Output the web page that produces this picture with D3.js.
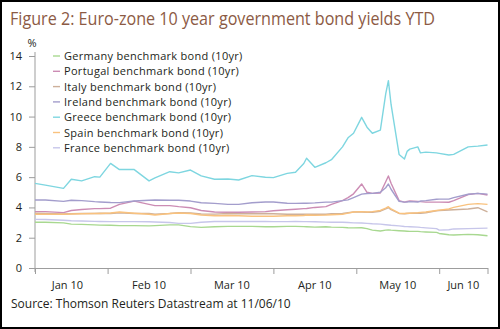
<!DOCTYPE html>
<html>
<head>
<meta charset="utf-8">
<script src="https://cdn.jsdelivr.net/npm/d3@7"></script>
<style>
  body { margin: 0; background: #fff; }
  svg { display: block; }
  .axis path, .axis line { stroke: #9d9d9d; }
  .axis text { font-family: "Open Sans", sans-serif; font-size: 11px; fill: #231f20; }
</style>
</head>
<body>
<script>
const dim = {width: 500, height: 329};
const plot = {left: 35, right: 487.5, top: 56, bottom: 268};

// sample dates shared by every series
const dates = [
  "2010-01-04","2010-01-08","2010-01-15","2010-01-18","2010-01-22","2010-01-27","2010-01-29",
  "2010-02-02","2010-02-05","2010-02-10","2010-02-15","2010-02-17","2010-02-22","2010-02-25",
  "2010-03-01","2010-03-05","2010-03-10","2010-03-15","2010-03-19","2010-03-24","2010-03-29",
  "2010-04-01","2010-04-06","2010-04-09","2010-04-12","2010-04-13","2010-04-16","2010-04-20",
  "2010-04-22","2010-04-26","2010-04-28","2010-04-30",
  "2010-05-03","2010-05-05","2010-05-07","2010-05-10","2010-05-12","2010-05-13","2010-05-14",
  "2010-05-17","2010-05-19","2010-05-20","2010-05-21","2010-05-24","2010-05-25","2010-05-27",
  "2010-05-31","2010-06-01","2010-06-03","2010-06-04","2010-06-07","2010-06-09","2010-06-11"
];

const germany = [3.02,3.02,2.98,2.90,2.88,2.85,2.83, 2.82,2.80,2.80,2.78,2.80,2.85,2.85,
  2.73,2.68,2.72,2.75,2.75,2.75,2.72, 2.72,2.75,2.75,2.73,2.72,2.70,2.72, 2.70,2.68,2.66,2.65,
  2.66,2.60,2.50,2.44,2.50,2.52,2.50, 2.46,2.44,2.43,2.42,2.42,2.40,2.38, 2.35,2.28,2.20,2.18,2.22,2.20,2.13];

const portugal = [3.72,3.72,3.66,3.80,3.86,3.92,3.92, 3.95,4.20,4.42,4.20,4.12,4.12,4.05,
  3.98,3.80,3.70,3.68,3.68,3.70,3.72, 3.78,3.85,3.88,3.92,3.93,4.00,4.05, 4.20,4.45,4.65,4.90,
  5.55,5.00,4.93,4.95,5.70,6.08,5.60, 4.45,4.35,4.40,4.42,4.40,4.38,4.35, 4.35,4.35,4.34,4.45,4.85,4.93,4.82];

const italy = [3.62,3.60,3.57,3.58,3.60,3.60,3.62, 3.60,3.65,3.60,3.60,3.55,3.60,3.65,
  3.63,3.57,3.56,3.60,3.58,3.58,3.60, 3.58,3.55,3.55,3.55,3.56,3.55,3.55, 3.58,3.60,3.65,3.70,
  3.70,3.68,3.68,3.75,3.90,3.98,3.85, 3.60,3.58,3.60,3.62,3.62,3.62,3.65, 3.78,3.80,3.83,3.85,3.90,3.98,3.70];

const ireland = [4.49,4.49,4.40,4.47,4.45,4.38,4.36, 4.33,4.32,4.42,4.47,4.49,4.47,4.47,
  4.42,4.31,4.27,4.20,4.20,4.31,4.36, 4.36,4.28,4.27,4.28,4.28,4.30,4.35, 4.35,4.45,4.50,4.65,
  4.88,4.92,4.93,5.00,5.30,5.55,5.20, 4.40,4.35,4.36,4.38,4.36,4.42,4.45, 4.54,4.55,4.55,4.65,4.87,4.93,4.88];

const greece = [5.59,5.47,5.26,5.86,5.75,6.03,6.00, 6.91,6.50,6.50,5.75,5.95,6.36,6.28,
  6.47,6.08,5.86,5.88,5.81,6.10,5.99, 5.97,6.25,6.32,6.90,7.25,6.65,6.95, 7.15,8.00,8.60,8.90,
  9.95,9.30,8.90,9.10,11.50,12.37,10.80, 7.50,7.20,7.70,7.85,8.00,7.60,7.65, 7.60,7.57,7.46,7.50,8.00,8.05,8.12];

const spain = [3.55,3.55,3.55,3.57,3.58,3.60,3.60, 3.63,3.70,3.62,3.55,3.50,3.60,3.63,
  3.60,3.50,3.45,3.47,3.45,3.42,3.42, 3.42,3.45,3.45,3.47,3.50,3.48,3.50, 3.52,3.55,3.62,3.70,
  3.72,3.70,3.72,3.80,3.95,4.05,3.90, 3.62,3.60,3.62,3.62,3.65,3.67,3.70, 3.80,3.82,3.90,4.00,4.20,4.25,4.20];

const france = [3.21,3.20,3.15,3.12,3.10,3.08,3.07, 3.06,3.06,3.06,3.05,3.04,3.00,2.95,
  2.95,3.02,3.07,3.07,3.08,3.07,3.07, 3.06,3.06,3.07,3.06,3.06,3.05,3.03, 3.02,3.02,3.00,2.98,
  2.97,2.95,2.92,2.90,2.86,2.84,2.82, 2.78,2.74,2.73,2.72,2.70,2.68,2.65, 2.60,2.50,2.53,2.58,2.60,2.62,2.63];

const seriesNames = [
  "Germany benchmark bond (10yr)", "Portugal benchmark bond (10yr)", "Italy benchmark bond (10yr)",
  "Ireland benchmark bond (10yr)", "Greece benchmark bond (10yr)", "Spain benchmark bond (10yr)",
  "France benchmark bond (10yr)"
];
const seriesValues = [germany, portugal, italy, ireland, greece, spain, france];
const colors = ["#a8d890", "#cc8cb4", "#cdb09a", "#a39dcc", "#7ed6e0", "#f9c27e", "#c7c6ea"];

const monthStarts = ["2010-01-01","2010-02-01","2010-03-01","2010-04-01","2010-05-01","2010-06-01","2010-07-01"];
const yTicks = [0, 2, 4, 6, 8, 10, 12, 14];

const parse = d3.timeParse("%Y-%m-%d");
const days = dates.map(parse);
const months = monthStarts.map(parse);
const series = seriesNames.map((name, i) => ({
  name, color: colors[i],
  points: days.map((d, j) => ({date: d, value: seriesValues[i][j]}))
}));

// every month gets the same width on the axis
const firstW = 72.6, monthW = 82.9;
const inner = months.slice(1, 6);
const x = d3.scaleTime()
  .domain([days[0], ...inner, days[days.length - 1]])
  .range([plot.left, ...inner.map((m, i) => plot.left + firstW + i * monthW), plot.right]);
const y = d3.scaleLinear().domain([0, 14]).range([plot.bottom, plot.top]);

const svg = d3.select("body").append("svg")
  .attr("width", dim.width).attr("height", dim.height);

svg.append("rect").attr("x", 1).attr("y", 1)
  .attr("width", dim.width - 2).attr("height", dim.height - 2)
  .attr("fill", "#fff").attr("stroke", "#000").attr("stroke-width", 2);

svg.append("text").attr("x", 10).attr("y", 25)
  .attr("font-family", "Open Sans, sans-serif").attr("font-size", 18.5)
  .attr("fill", "#8c5a44").attr("textLength", 425).attr("lengthAdjust", "spacingAndGlyphs")
  .text("Figure 2: Euro-zone 10 year government bond yields YTD");

// y axis
const yAxis = svg.append("g").attr("class", "axis")
  .attr("transform", `translate(${plot.left},0)`)
  .call(d3.axisLeft(y).tickValues(yTicks).tickSize(6).tickSizeOuter(0).tickPadding(7));
yAxis.select(".domain").attr("d", `M0,${plot.bottom + 4}V${plot.top - 4}`);

svg.append("text").attr("x", 32).attr("y", 47).attr("text-anchor", "middle")
  .attr("font-family", "Open Sans, sans-serif").attr("font-size", 11).attr("fill", "#231f20")
  .text("%");

// x axis: ticks on month boundaries, labels centred in each month
svg.append("g").attr("class", "axis")
  .attr("transform", `translate(0,${plot.bottom})`)
  .call(d3.axisBottom(x).tickValues([days[0], ...inner, days[days.length - 1]])
    .tickFormat("").tickSize(6).tickSizeOuter(0));

const fmt = d3.timeFormat("%b %y");
svg.append("g").attr("class", "axis")
  .selectAll("text")
  .data(months.slice(0, 6))
  .join("text")
    .attr("x", (m, i) => (x(m) + Math.min(x(months[i + 1]), plot.right)) / 2)
    .attr("y", 289)
    .attr("text-anchor", "middle")
    .text(fmt);

// series lines
const line = d3.line().x(d => x(d.date)).y(d => y(d.value));
svg.append("g").selectAll("path")
  .data(series)
  .join("path")
    .attr("fill", "none")
    .attr("stroke", d => d.color)
    .attr("stroke-width", 1.4)
    .attr("stroke-linejoin", "round")
    .attr("d", d => line(d.points));

// legend
const legend = svg.append("g").selectAll("g")
  .data(series)
  .join("g")
    .attr("transform", (d, i) => `translate(53,${56 + i * 15.3})`);
legend.append("line").attr("x1", 0).attr("x2", 7)
  .attr("stroke", d => d.color).attr("stroke-width", 1.4);
legend.append("text").attr("x", 11).attr("y", 4)
  .attr("font-family", "Open Sans, sans-serif").attr("font-size", 11)
  .attr("letter-spacing", 0.3).attr("fill", "#231f20")
  .text(d => d.name);

svg.append("text").attr("x", 11).attr("y", 308)
  .attr("font-family", "Open Sans, sans-serif").attr("font-size", 12).attr("fill", "#231f20")
  .text("Source: Thomson Reuters Datastream at 11/06/10");
</script>
</body>
</html>
